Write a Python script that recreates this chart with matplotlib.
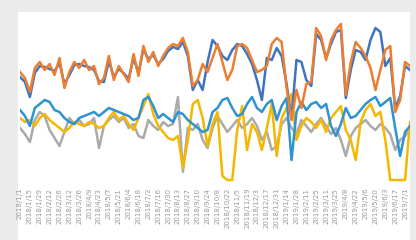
import matplotlib.pyplot as plt
import matplotlib.patches as mpatches
import numpy as np
import pandas as pd

# values (80 points per series)
orange = [113, 107, 93, 117, 123, 115, 121, 110, 127, 97,
          113, 123, 117, 125, 115, 119, 101, 107, 129, 105,
          119, 111, 103, 131, 109, 139, 123, 133, 119, 129,
          137, 141, 139, 147, 133, 99, 105, 121, 113, 127,
          141, 123, 105, 115, 139, 141, 137, 125, 113, 115,
          119, 141, 147, 143, 97, 65, 95, 77, 101, 103,
          157, 149, 125, 145, 155, 161, 90, 123, 143, 137,
          129, 117, 95, 115, 135, 139, 73, 85, 123, 119]
blue = [108, 103, 88, 112, 119, 118, 116, 114, 122, 101,
        110, 120, 121, 119, 118, 115, 104, 103, 124, 108,
        116, 112, 106, 127, 112, 136, 126, 130, 121, 126,
        134, 138, 136, 143, 129, 95, 105, 95, 123, 145,
        139, 129, 125, 135, 141, 139, 131, 121, 105, 85,
        127, 125, 137, 129, 101, 67, 125, 123, 105, 99,
        151, 145, 127, 141, 153, 155, 87, 115, 135, 133,
        125, 145, 157, 153, 119, 127, 77, 89, 119, 115]
light_blue = [75, 69, 59, 77, 81, 85, 83, 75, 73, 67,
              63, 61, 67, 69, 71, 73, 69, 73, 77, 75,
              73, 71, 69, 65, 67, 85, 88, 79, 67, 71,
              67, 63, 73, 71, 65, 61, 57, 53, 55, 73,
              77, 85, 87, 77, 69, 71, 81, 88, 77, 73,
              81, 85, 65, 79, 87, 25, 73, 83, 75, 81,
              83, 77, 81, 59, 49, 61, 77, 67, 69, 75,
              81, 85, 88, 79, 83, 87, 57, 29, 53, 59]
yellow = [67, 63, 65, 59, 67, 71, 65, 61, 57, 53,
          57, 63, 61, 59, 63, 61, 57, 59, 67, 73,
          65, 69, 61, 55, 67, 79, 91, 71, 59, 53,
          47, 45, 49, 17, 45, 81, 85, 67, 39, 61,
          73, 9, 5, 5, 55, 79, 35, 61, 53, 35,
          57, 81, 29, 67, 77, 91, 45, 59, 67, 63,
          57, 65, 53, 67, 73, 79, 55, 45, 25, 63,
          75, 81, 69, 73, 45, 5, 5, 5, 5, 63]
gray = [57, 51, 43, 65, 73, 69, 55, 47, 39, 53,
        67, 61, 65, 59, 61, 67, 37, 59, 65, 69,
        63, 67, 57, 61, 49, 47, 65, 59, 55, 63,
        59, 61, 88, 13, 57, 55, 61, 45, 37, 57,
        69, 61, 53, 59, 65, 57, 61, 67, 59, 45,
        53, 35, 39, 61, 67, 57, 51, 65, 59, 53,
        61, 67, 59, 51, 57, 45, 29, 49, 57, 61,
        65, 59, 55, 61, 57, 51, 35, 45, 49, 55]

dates = pd.date_range("2018-01-01", periods=len(orange), freq="W-MON")
labels = [f"{d.year}/{d.month}/{d.day}" for d in dates]

fig = plt.figure(figsize=(4.16, 2.4), dpi=100)
fig.patch.set_facecolor('#ebebeb')
# white chart panel
fig.add_artist(mpatches.Rectangle((18 / 416, 0), 392 / 416, 228 / 240,
                                  transform=fig.transFigure, facecolor='white',
                                  edgecolor='none', zorder=0))

ax = fig.add_axes([20 / 416, 55 / 240, 390 / 416, 173 / 240])
ax.set_facecolor('white')
x = np.arange(len(orange))

lw = 1.8
ax.plot(x, gray, color='#aaaaaa', lw=lw)
ax.plot(x, yellow, color='#f5b800', lw=lw)
ax.plot(x, light_blue, color='#2e93d1', lw=lw)
ax.plot(x, blue, color='#3f74c0', lw=lw)
ax.plot(x, orange, color='#ed7d31', lw=lw)

ax.set_xlim(0, len(orange) - 1)
ax.set_ylim(0, 173)
for s in ax.spines.values():
    s.set_visible(False)
ax.set_yticks([])
ax.set_xticks(x[::2])
ax.set_xticklabels(labels[::2], rotation=90, fontsize=5, color='#9a9a9a')
ax.tick_params(axis='x', length=0, pad=2)

fig.savefig('out.png', dpi=100, facecolor=fig.get_facecolor())
